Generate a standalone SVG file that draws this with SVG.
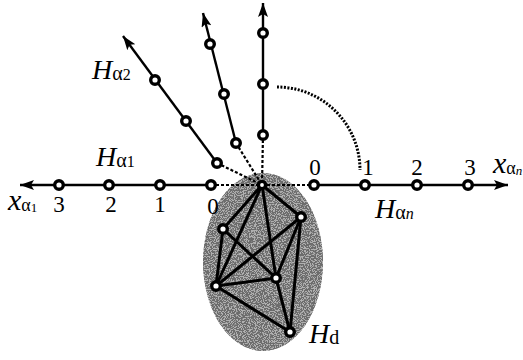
<svg xmlns="http://www.w3.org/2000/svg" width="523" height="360" viewBox="0 0 523 360">
<style>
.ax{stroke:#000;stroke-width:2.4;fill:none}
.dsh{stroke:#000;stroke-width:2.2;stroke-dasharray:3 2;fill:none}
.ed{stroke:#000;stroke-width:3;fill:none;stroke-linecap:round}
.nd{fill:#fff;stroke:#000;stroke-width:3.4}
.t{font-family:"Liberation Serif","Times New Roman",serif;fill:#000}
.it{font-style:italic}
</style>
<defs>
<marker id="ah" markerUnits="userSpaceOnUse" markerWidth="16" markerHeight="12" refX="14" refY="5" orient="auto">
<path d="M0,0 L14,5 L0,10 L3,5 z" fill="#000"/>
</marker>
<filter id="stip" x="0" y="0" width="1" height="1">
<feTurbulence type="fractalNoise" baseFrequency="0.85" numOctaves="2" seed="7" result="n"/>
<feColorMatrix in="n" type="matrix" values="0 0 0 0 0.15  0 0 0 0 0.15  0 0 0 0 0.15  14 0 0 0 -6.1" result="d"/>
<feComposite in="d" in2="SourceGraphic" operator="in"/>
</filter>
</defs>
<rect width="523" height="360" fill="#fff"/>
<g id="Hd-region">
<ellipse cx="263" cy="262" rx="60" ry="89" fill="#b0b0b0"/>
<ellipse cx="263" cy="262" rx="60" ry="89" fill="#000" filter="url(#stip)"/>
</g>
<g id="connectors">
<line class="ax" x1="211" y1="185" x2="20" y2="185" marker-end="url(#ah)"/>
<line class="ax" x1="314" y1="185" x2="508" y2="185" marker-end="url(#ah)"/>
<line class="ax" x1="263" y1="135" x2="263" y2="3" marker-end="url(#ah)"/>
<line class="ax" x1="236" y1="143" x2="203" y2="13" marker-end="url(#ah)"/>
<line class="ax" x1="217" y1="163" x2="123" y2="36" marker-end="url(#ah)"/>
<line class="dsh" x1="211" y1="185" x2="262" y2="185"/>
<line class="dsh" x1="262" y1="185" x2="314" y2="185"/>
<line class="dsh" x1="217" y1="163" x2="262" y2="185"/>
<line class="dsh" x1="236" y1="143" x2="262" y2="185"/>
<line class="dsh" x1="263" y1="135" x2="262" y2="185"/>
<path d="M277,87 A83,83 0 0 1 360,170" stroke="#000" stroke-width="3" stroke-dasharray="2 1.5" fill="none"/>
<g id="Hd-edges">
<line class="ed" x1="262" y1="185" x2="223" y2="229"/>
<line class="ed" x1="262" y1="185" x2="216" y2="286"/>
<line class="ed" x1="262" y1="185" x2="276" y2="278"/>
<line class="ed" x1="262" y1="185" x2="301" y2="217"/>
<line class="ed" x1="223" y1="229" x2="216" y2="286"/>
<line class="ed" x1="223" y1="229" x2="276" y2="278"/>
<line class="ed" x1="216" y1="286" x2="301" y2="217"/>
<line class="ed" x1="216" y1="286" x2="276" y2="278"/>
<line class="ed" x1="216" y1="286" x2="290" y2="332"/>
<line class="ed" x1="301" y1="217" x2="276" y2="278"/>
<line class="ed" x1="301" y1="217" x2="290" y2="332"/>
<line class="ed" x1="276" y1="278" x2="290" y2="332"/>
</g>
</g>
<g id="n-hub"><circle class="nd" cx="262" cy="185" r="3.6"/></g>
<g id="n-a1-0"><circle class="nd" cx="211" cy="185" r="4.3"/></g>
<g id="n-a1-1"><circle class="nd" cx="160" cy="185" r="4.3"/></g>
<g id="n-a1-2"><circle class="nd" cx="109" cy="185" r="4.3"/></g>
<g id="n-a1-3"><circle class="nd" cx="59" cy="185" r="4.3"/></g>
<g id="n-an-0"><circle class="nd" cx="314" cy="185" r="4.3"/></g>
<g id="n-an-1"><circle class="nd" cx="365" cy="185" r="4.3"/></g>
<g id="n-an-2"><circle class="nd" cx="417" cy="185" r="4.3"/></g>
<g id="n-an-3"><circle class="nd" cx="468" cy="185" r="4.3"/></g>
<g id="n-v-1"><circle class="nd" cx="263" cy="135" r="4.3"/></g>
<g id="n-v-2"><circle class="nd" cx="263" cy="84" r="4.3"/></g>
<g id="n-v-3"><circle class="nd" cx="263" cy="33" r="4.3"/></g>
<g id="n-m-1"><circle class="nd" cx="236" cy="143" r="4.3"/></g>
<g id="n-m-2"><circle class="nd" cx="224" cy="94" r="4.3"/></g>
<g id="n-m-3"><circle class="nd" cx="210" cy="44" r="4.3"/></g>
<g id="n-a2-1"><circle class="nd" cx="217" cy="163" r="4.3"/></g>
<g id="n-a2-2"><circle class="nd" cx="186" cy="121" r="4.3"/></g>
<g id="n-a2-3"><circle class="nd" cx="155" cy="80" r="4.3"/></g>
<g id="n-d-a"><circle class="nd" cx="223" cy="229" r="4.3"/></g>
<g id="n-d-b"><circle class="nd" cx="301" cy="217" r="4.3"/></g>
<g id="n-d-c"><circle class="nd" cx="276" cy="278" r="4.3"/></g>
<g id="n-d-d"><circle class="nd" cx="216" cy="286" r="4.3"/></g>
<g id="n-d-e"><circle class="nd" cx="290" cy="332" r="4.3"/></g>
<g id="labels">
<text class="t" font-size="23" x="59" y="212" text-anchor="middle">3</text>
<text class="t" font-size="23" x="111" y="212" text-anchor="middle">2</text>
<text class="t" font-size="23" x="160" y="212" text-anchor="middle">1</text>
<text class="t" font-size="23" x="213" y="214" text-anchor="middle">0</text>
<text class="t" font-size="23" x="315" y="175" text-anchor="middle">0</text>
<text class="t" font-size="23" x="368" y="175" text-anchor="middle">1</text>
<text class="t" font-size="23" x="417" y="175" text-anchor="middle">2</text>
<text class="t" font-size="23" x="470" y="175" text-anchor="middle">3</text>
<text class="t" x="8" y="210"><tspan class="it" font-size="30">x</tspan><tspan font-size="18" dy="1">α</tspan><tspan font-size="13" dy="1">1</tspan></text>
<text class="t" x="493" y="173"><tspan class="it" font-size="30">x</tspan><tspan font-size="18" dy="1">α</tspan><tspan class="it" font-size="13" dy="1">n</tspan></text>
<text class="t" x="92" y="79"><tspan class="it" font-size="28">H</tspan><tspan font-size="20" dy="1">α</tspan><tspan font-size="16">2</tspan></text>
<text class="t" x="96" y="166"><tspan class="it" font-size="28">H</tspan><tspan font-size="20" dy="1">α</tspan><tspan font-size="16">1</tspan></text>
<text class="t" x="375" y="218"><tspan class="it" font-size="28">H</tspan><tspan font-size="20" dy="1">α</tspan><tspan class="it" font-size="16">n</tspan></text>
<text class="t" x="309" y="343"><tspan class="it" font-size="28">H</tspan><tspan font-size="20" dy="1">d</tspan></text>
</g>
</svg>
